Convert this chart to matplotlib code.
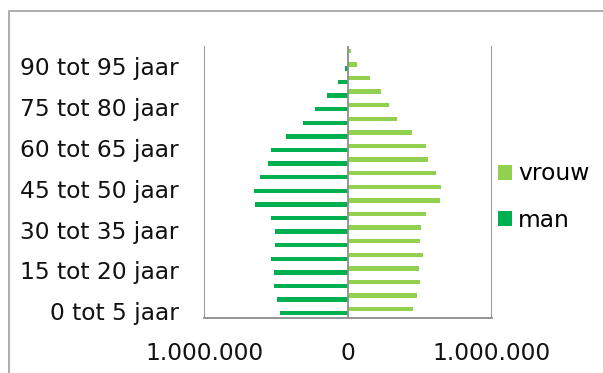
import matplotlib
matplotlib.use("Agg")
import matplotlib.pyplot as plt
from matplotlib.patches import Rectangle, Patch
import numpy as np

# Age groups, youngest first
categories = [
    "0 tot 5 jaar", "5 tot 10 jaar", "10 tot 15 jaar", "15 tot 20 jaar",
    "20 tot 25 jaar", "25 tot 30 jaar", "30 tot 35 jaar", "35 tot 40 jaar",
    "40 tot 45 jaar", "45 tot 50 jaar", "50 tot 55 jaar", "55 tot 60 jaar",
    "60 tot 65 jaar", "65 tot 70 jaar", "70 tot 75 jaar", "75 tot 80 jaar",
    "80 tot 85 jaar", "85 tot 90 jaar", "90 tot 95 jaar", "95 tot 100 jaar",
]

# Population per age group
man = [472000, 495000, 516000, 511000, 532000, 509000, 506000, 534000,
       648000, 655000, 611000, 553000, 537000, 432000, 311000, 225000,
       146000, 70000, 18000, 3000]
vrouw = [453000, 481000, 502000, 495000, 525000, 506000, 509000, 544000,
         645000, 646000, 613000, 555000, 541000, 446000, 346000, 288000,
         230000, 153000, 67000, 21000]

x_ticks = [-1000000, 0, 1000000]
x_tick_labels = ["1.000.000", "0", "1.000.000"]

MAN_COLOR = "#00b050"
VROUW_COLOR = "#92d050"
LINE_COLOR = "#8e8e8e"
FONT_SIZE = 16.8

plt.rcParams["font.family"] = ["DejaVu Sans"]

fig = plt.figure(figsize=(6.03, 3.73), dpi=100)
ax = fig.add_axes([204 / 603, 1 - 318 / 373, (491.5 - 204) / 603, (318 - 46) / 373])

y = np.arange(len(categories))
bar_h = 0.32
ax.barh(y - 0.15, [-v for v in man], height=bar_h, color=MAN_COLOR, zorder=2)
ax.barh(y + 0.15, vrouw, height=bar_h, color=VROUW_COLOR, zorder=2)

ax.set_xlim(-1000000, 1000000)
ax.set_ylim(-0.5, len(categories) - 0.5)

ax.set_xticks(x_ticks)
ax.set_xticklabels(x_tick_labels, fontsize=FONT_SIZE, color="#111111")
ax.set_yticks(y[::3])
ax.set_yticklabels(categories[::3], fontsize=FONT_SIZE, color="#111111")
ax.tick_params(axis="x", length=0, pad=17)
ax.tick_params(axis="y", length=0, pad=18)

for side in ("top", "left", "right"):
    ax.spines[side].set_visible(False)
ax.spines["bottom"].set_color(LINE_COLOR)
ax.spines["bottom"].set_linewidth(1.3)

# Vertical gridlines at the outer ticks and the value axis at zero
for xv in (-1000000, 1000000):
    ax.axvline(xv, color=LINE_COLOR, lw=1.3, zorder=1)
ax.axvline(0, color=LINE_COLOR, lw=1.3, zorder=3)

handles = [Patch(facecolor=VROUW_COLOR, label="vrouw"),
           Patch(facecolor=MAN_COLOR, label="man")]
fig.legend(handles=handles, loc="center left", bbox_to_anchor=(482 / 603, 1 - 197 / 373),
           frameon=False, fontsize=FONT_SIZE, handlelength=0.6, handleheight=0.6,
           handletextpad=0.25, labelspacing=1.0, borderpad=0.2)

# Chart area border
fig.patches.append(Rectangle((9 / 603, -0.2), 2.0, 1.2 - 11 / 373,
                             transform=fig.transFigure, fill=False,
                             edgecolor="#a6a6a6", lw=1.3))

fig.savefig("out.png", dpi=100)
